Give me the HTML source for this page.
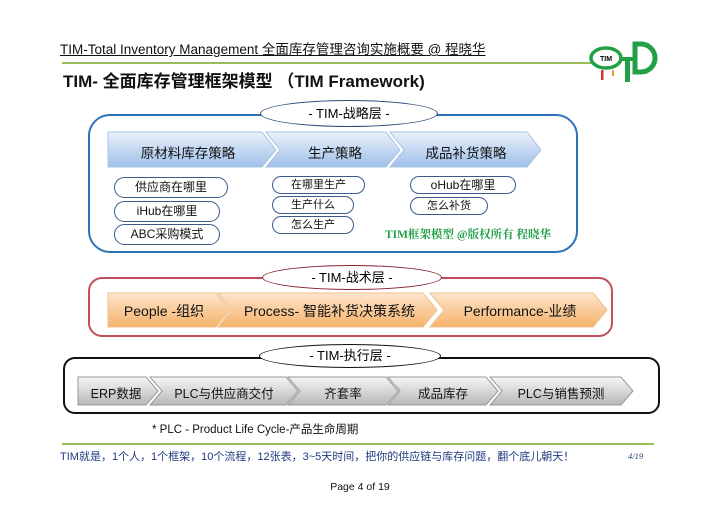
<!DOCTYPE html>
<html><head><meta charset="utf-8"><style>
body{margin:0;width:720px;height:509px;background:#fff;position:relative;overflow:hidden;font-family:"Liberation Sans","Noto Sans CJK SC",sans-serif;}
.a{position:absolute;}
.t{white-space:nowrap;color:#111;}
.pill{position:absolute;border:1.5px solid #2a4a7a;border-radius:50%/50%;background:#fff;font-size:12px;text-align:center;white-space:nowrap;box-sizing:border-box;}
.sp{position:absolute;border:1.5px solid #3a5a8a;border-radius:12px;background:#fff;font-size:12px;text-align:center;white-space:nowrap;box-sizing:border-box;color:#111;}
</style></head><body>
<div class="a t" style="left:60px;top:38px;font-size:13.5px;text-decoration:underline;">TIM-Total Inventory Management 全面库存管理咨询实施概要 @ 程晓华</div>
<div class="a" style="left:62px;top:62px;width:532px;height:2px;background:#9bbb59;"></div>
<svg class="a" style="left:588px;top:38px" width="70" height="46">
<ellipse cx="18" cy="20" rx="15" ry="10" fill="#fff" stroke="#22a046" stroke-width="3.5"/>
<text x="18" y="23" font-size="7" font-weight="bold" text-anchor="middle" font-family="Liberation Sans">TIM</text>
<rect x="32" y="19" width="14" height="4" fill="#22a046"/><rect x="37" y="19" width="5" height="25" fill="#22a046"/>
<path d="M47 6 h6 a14 14 0 0 1 0 28 h-6 z" fill="none" stroke="#22a046" stroke-width="5"/>
<rect x="13" y="32" width="2.5" height="10" fill="#d33"/><rect x="24" y="32" width="2" height="6" fill="#e9a030"/>
</svg>
<div class="a t" style="left:63px;top:67px;font-size:17px;font-weight:bold;">TIM- 全面库存管理框架模型 （TIM Framework)</div>

<!-- strategy -->
<div class="a" style="left:88px;top:114px;width:490px;height:139px;border:2px solid #2e73b8;border-radius:22px;box-sizing:border-box;"></div>
<div class="pill" style="left:260px;top:100px;width:178px;height:27px;line-height:25px;font-size:13px;">- TIM-战略层 -</div>
<svg class="a" style="left:0;top:0" width="720" height="509">
<defs>
<linearGradient id="b" x1="0" y1="0" x2="0" y2="1"><stop offset="0" stop-color="#eaf1fb"/><stop offset="1" stop-color="#9fc0e8"/></linearGradient>
<linearGradient id="o" x1="0" y1="0" x2="0" y2="1"><stop offset="0" stop-color="#fde6cc"/><stop offset="1" stop-color="#f6b26b"/></linearGradient>
<linearGradient id="g" x1="0" y1="0" x2="0" y2="1"><stop offset="0" stop-color="#f6f6f6"/><stop offset="1" stop-color="#b8b8b8"/></linearGradient>
</defs>
<g stroke="#a9c3e6" stroke-width="1" fill="url(#b)">
<path d="M108 132 H262 L276 150 L262 167 H108 Z"/>
<path d="M266 132 H386 L400 150 L386 167 H266 L280 150 Z"/>
<path d="M390 132 H527 L541 150 L527 167 H390 L404 150 Z"/>
</g>
<g stroke="#f0c090" stroke-width="1" fill="url(#o)">
<path d="M108 293 H216 L230 310 L216 327 H108 Z"/>
<path d="M218 293 H423 L437 310 L423 327 H218 L232 310 Z"/>
<path d="M430 293 H593 L607 310 L593 327 H430 L444 310 Z"/>
</g>
<g stroke="#999" stroke-width="1" fill="url(#g)">
<path d="M78 377 H146 L158 391 L146 405 H78 Z"/>
<path d="M150 377 H286 L298 391 L286 405 H150 L162 391 Z"/>
<path d="M288 377 H386 L398 391 L386 405 H288 L300 391 Z"/>
<path d="M388 377 H486 L498 391 L486 405 H388 L400 391 Z"/>
<path d="M490 377 H621 L633 391 L621 405 H490 L502 391 Z"/>
</g>
</svg>
<div class="a t" style="left:108px;top:142px;width:160px;text-align:center;font-size:13.5px;">原材料库存策略</div>
<div class="a t" style="left:276px;top:142px;width:118px;text-align:center;font-size:13.5px;">生产策略</div>
<div class="a t" style="left:400px;top:142px;width:132px;text-align:center;font-size:13.5px;">成品补货策略</div>
<div class="sp" style="left:114px;top:177px;width:114px;height:21px;line-height:19px;">供应商在哪里</div>
<div class="sp" style="left:114px;top:201px;width:106px;height:21px;line-height:19px;">iHub在哪里</div>
<div class="sp" style="left:114px;top:224px;width:106px;height:21px;line-height:19px;">ABC采购模式</div>
<div class="sp" style="left:272px;top:176px;width:93px;height:18px;line-height:16px;font-size:11px;">在哪里生产</div>
<div class="sp" style="left:272px;top:196px;width:82px;height:18px;line-height:16px;font-size:11px;">生产什么</div>
<div class="sp" style="left:272px;top:216px;width:82px;height:18px;line-height:16px;font-size:11px;">怎么生产</div>
<div class="sp" style="left:410px;top:176px;width:106px;height:18px;line-height:16px;">oHub在哪里</div>
<div class="sp" style="left:410px;top:197px;width:78px;height:18px;line-height:16px;font-size:11px;">怎么补货</div>
<div class="a t" style="left:385px;top:226px;font-size:11.5px;color:#21a048;font-family:'Liberation Serif','Noto Serif CJK SC',serif;font-weight:bold;">TIM框架模型 @版权所有 程晓华</div>

<!-- tactics -->
<div class="a" style="left:88px;top:277px;width:525px;height:60px;border:2px solid #c0505a;border-radius:14px;box-sizing:border-box;"></div>
<div class="pill" style="left:262px;top:265px;width:180px;height:25px;line-height:23px;font-size:13px;border-color:#8a2030;">- TIM-战术层 -</div>
<svg class="a" style="left:0;top:0" width="720" height="509"><g stroke="#f0c090" fill="url(#o)"></g></svg>
<div class="a t" style="left:108px;top:301px;width:112px;text-align:center;font-size:14px;">People -组织</div>
<div class="a t" style="left:232px;top:301px;width:195px;text-align:center;font-size:14px;">Process- 智能补货决策系统</div>
<div class="a t" style="left:444px;top:301px;width:152px;text-align:center;font-size:14px;">Performance-业绩</div>

<!-- execution -->
<div class="a" style="left:63px;top:357px;width:597px;height:57px;border:2px solid #111;border-radius:12px;box-sizing:border-box;"></div>
<div class="pill" style="left:259px;top:344px;width:182px;height:24px;line-height:22px;font-size:13px;border-color:#111;">- TIM-执行层 -</div>
<div class="a t" style="left:80px;top:383px;width:72px;text-align:center;font-size:12.5px;">ERP数据</div>
<div class="a t" style="left:160px;top:383px;width:128px;text-align:center;font-size:12.5px;">PLC与供应商交付</div>
<div class="a t" style="left:298px;top:383px;width:90px;text-align:center;font-size:12.5px;">齐套率</div>
<div class="a t" style="left:398px;top:383px;width:90px;text-align:center;font-size:12.5px;">成品库存</div>
<div class="a t" style="left:500px;top:383px;width:122px;text-align:center;font-size:12.5px;">PLC与销售预测</div>

<div class="a t" style="left:152px;top:421px;font-size:11.5px;">* PLC -  Product Life Cycle-产品生命周期</div>
<div class="a" style="left:62px;top:443px;width:592px;height:2px;background:#9bbb59;"></div>
<div class="a t" style="left:60px;top:448px;font-size:11px;color:#1f3a80;">TIM就是，1个人，1个框架，10个流程，12张表，3~5天时间，把你的供应链与库存问题，翻个底儿朝天！</div>
<div class="a t" style="left:628px;top:451px;font-size:8.5px;color:#1f3a80;font-style:italic;font-family:'Liberation Serif',serif;">4/19</div>
<div class="a t" style="left:0;top:481px;width:720px;text-align:center;font-size:10.5px;">Page 4 of 19</div>
</body></html>
